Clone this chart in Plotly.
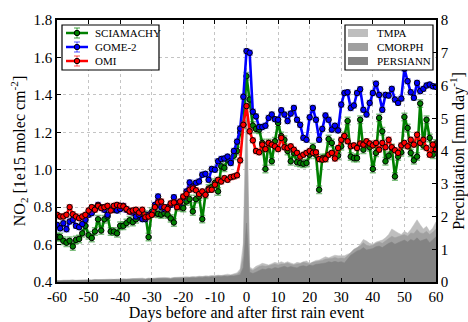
import plotly.graph_objects as go

days = list(range(-60, 61))

sciamachy = [
    0.64, 0.64, 0.62, 0.61, 0.62, 0.59, 0.625, 0.63, 0.66, 0.70,
    0.65, 0.635, 0.67, 0.735, 0.675, 0.735, 0.75, 0.67, 0.67, 0.66,
    0.70, 0.70, 0.715, 0.73, 0.72, 0.735, 0.75, 0.765, 0.76, 0.64,
    0.775, 0.768, 0.764, 0.76, 0.768, 0.76, 0.74, 0.718, 0.807, 0.80,
    0.795, 0.83, 0.843, 0.777, 0.843, 0.857, 0.736, 0.866, 0.90, 0.907,
    0.93, 0.884, 1.018, 1.01, 1.054, 1.045, 1.075, 1.10, 1.20, 1.24,
    1.50,
    1.375, 1.236, 1.218, 1.214, 1.143, 1.004, 1.143, 1.045, 1.152, 1.25,
    1.18, 1.16, 1.10, 1.045, 1.09, 1.04, 1.036, 1.032, 1.036, 1.08,
    1.12, 1.08, 0.893, 1.062, 1.062, 1.164, 1.143, 1.08, 1.075, 1.125,
    1.18, 1.26, 1.07, 1.062, 1.062, 1.267, 1.107, 1.134, 1.12, 1.004,
    1.09, 1.277, 1.205, 1.045, 1.075, 1.116, 0.964, 1.07, 1.093, 1.282,
    1.223, 1.09, 1.05, 1.07, 1.354, 1.129, 1.267, 1.17, 1.08, 1.14,
]

gome2 = [
    0.705, 0.687, 0.714, 0.682, 0.723, 0.732, 0.70, 0.693, 0.71, 0.732,
    0.759, 0.768, 0.795, 0.812, 0.80, 0.786, 0.759, 0.786, 0.786, 0.782,
    0.79, 0.807, 0.786, 0.777, 0.771, 0.75, 0.759, 0.736, 0.736, 0.759,
    0.764, 0.812, 0.857, 0.80, 0.79, 0.80, 0.812, 0.853, 0.82, 0.825,
    0.853, 0.884, 0.932, 0.91, 0.93, 0.937, 0.973, 0.978, 0.946, 1.004,
    1.0, 1.045, 1.057, 1.06, 1.07, 1.036, 1.10, 1.15, 1.22, 1.39,
    1.634,
    1.625, 1.31, 1.285, 1.228, 1.228, 1.235, 1.277, 1.295, 1.27, 1.267,
    1.318, 1.295, 1.26, 1.30, 1.33, 1.267, 1.24, 1.17, 1.16, 1.28,
    1.33, 1.267, 1.16, 1.218, 1.29, 1.267, 1.214, 1.235, 1.21, 1.348,
    1.41, 1.414, 1.33, 1.343, 1.41, 1.43, 1.32, 1.295, 1.357, 1.41,
    1.46, 1.40, 1.32, 1.40, 1.396, 1.432, 1.375, 1.357, 1.38, 1.54,
    1.473, 1.414, 1.384, 1.464, 1.42, 1.432, 1.45, 1.455, 1.446, 1.443,
]

omi = [
    0.759, 0.75, 0.75, 0.759, 0.80, 0.762, 0.75, 0.741, 0.75, 0.759,
    0.782, 0.80, 0.786, 0.807, 0.795, 0.80, 0.807, 0.782, 0.807, 0.812,
    0.807, 0.804, 0.79, 0.777, 0.782, 0.786, 0.771, 0.786, 0.746, 0.75,
    0.759, 0.80, 0.825, 0.83, 0.80, 0.79, 0.82, 0.825, 0.80, 0.83,
    0.857, 0.87, 0.893, 0.90, 0.89, 0.87, 0.884, 0.866, 0.893, 0.893,
    0.92, 0.946, 0.937, 0.955, 0.946, 0.96, 0.964, 0.97, 1.05, 1.24,
    1.34,
    1.205, 1.157, 1.10, 1.093, 1.134, 1.11, 1.143, 1.134, 1.125, 1.11,
    1.17, 1.12, 1.116, 1.125, 1.107, 1.09, 1.07, 1.08, 1.09, 1.10,
    1.09, 1.093, 1.057, 1.054, 1.057, 1.08, 1.09, 1.06, 1.116, 1.16,
    1.18, 1.152, 1.125, 1.13, 1.116, 1.14, 1.134, 1.152, 1.14, 1.13,
    1.143, 1.107, 1.143, 1.12, 1.16, 1.12, 1.104, 1.09, 1.13, 1.143,
    1.125, 1.16, 1.134, 1.187, 1.143, 1.16, 1.116, 1.08, 1.134, 1.107,
]

sciamachy_err = [0.02] * len(days)
gome2_err = [0.013] * len(days)
omi_err = [0.013] * len(days)

tmpa = [
    0.05, 0.04, 0.06, 0.05, 0.06, 0.07, 0.05, 0.06, 0.07, 0.06,
    0.07, 0.06, 0.08, 0.07, 0.08, 0.07, 0.08, 0.09, 0.08, 0.09,
    0.09, 0.10, 0.09, 0.10, 0.11, 0.10, 0.11, 0.12, 0.10, 0.12,
    0.11, 0.12, 0.13, 0.12, 0.14, 0.13, 0.12, 0.14, 0.15, 0.14,
    0.15, 0.16, 0.15, 0.17, 0.16, 0.18, 0.17, 0.19, 0.18, 0.20,
    0.19, 0.21, 0.20, 0.22, 0.24, 0.22, 0.25, 0.28, 0.40, 1.20,
    6.2,
    0.45, 0.40, 0.48, 0.52, 0.57, 0.55, 0.52, 0.56, 0.60, 0.57,
    0.62, 0.58, 0.62, 0.58, 0.55, 0.60, 0.58, 0.62, 0.64, 0.57,
    0.62, 0.66, 0.67, 0.72, 0.77, 0.74, 0.78, 0.82, 0.80, 0.79,
    0.80, 0.85, 0.88, 0.95, 1.03, 1.15, 1.30, 1.25, 1.18, 1.15,
    1.22, 1.25, 1.28, 1.35, 1.45, 1.62, 1.55, 1.50, 1.45, 1.55,
    1.49, 1.60, 1.75, 1.90, 1.75, 1.62, 1.70, 1.55, 1.65, 1.84,
]

cmorph = [
    0.04, 0.04, 0.05, 0.04, 0.05, 0.06, 0.05, 0.05, 0.06, 0.05,
    0.06, 0.06, 0.07, 0.06, 0.07, 0.07, 0.07, 0.08, 0.07, 0.08,
    0.08, 0.09, 0.08, 0.09, 0.10, 0.09, 0.10, 0.10, 0.09, 0.11,
    0.10, 0.11, 0.12, 0.11, 0.12, 0.12, 0.11, 0.13, 0.13, 0.13,
    0.14, 0.14, 0.14, 0.15, 0.15, 0.16, 0.16, 0.17, 0.17, 0.18,
    0.18, 0.19, 0.19, 0.20, 0.21, 0.20, 0.22, 0.24, 0.32, 0.80,
    5.0,
    0.40, 0.35, 0.42, 0.47, 0.50, 0.48, 0.50, 0.52, 0.55, 0.52,
    0.55, 0.55, 0.58, 0.54, 0.52, 0.55, 0.56, 0.60, 0.58, 0.55,
    0.60, 0.62, 0.63, 0.66, 0.70, 0.70, 0.72, 0.75, 0.72, 0.73,
    0.72, 0.80, 0.90, 1.00, 1.05, 1.10, 1.20, 1.12, 1.10, 1.12,
    1.18, 1.22, 1.18, 1.25, 1.32, 1.40, 1.35, 1.38, 1.42, 1.45,
    1.40, 1.50, 1.48, 1.60, 1.50, 1.48, 1.55, 1.45, 1.52, 1.62,
]

persiann = [
    0.03, 0.03, 0.04, 0.03, 0.04, 0.05, 0.04, 0.04, 0.05, 0.05,
    0.04, 0.05, 0.06, 0.05, 0.06, 0.06, 0.05, 0.06, 0.07, 0.06,
    0.06, 0.07, 0.07, 0.06, 0.08, 0.07, 0.08, 0.08, 0.07, 0.09,
    0.08, 0.09, 0.10, 0.09, 0.10, 0.10, 0.09, 0.11, 0.10, 0.11,
    0.11, 0.12, 0.11, 0.13, 0.12, 0.14, 0.13, 0.15, 0.14, 0.16,
    0.15, 0.17, 0.16, 0.18, 0.17, 0.19, 0.18, 0.20, 0.22, 0.45,
    1.8,
    0.30, 0.26, 0.30, 0.36, 0.40, 0.38, 0.42, 0.40, 0.44, 0.42,
    0.45, 0.48, 0.44, 0.47, 0.45, 0.43, 0.48, 0.50, 0.47, 0.52,
    0.50, 0.54, 0.55, 0.56, 0.58, 0.62, 0.60, 0.63, 0.60, 0.62,
    0.58, 0.70, 0.82, 0.88, 0.95, 0.98, 1.05, 0.98, 1.00, 1.02,
    1.08, 1.10, 1.05, 1.12, 1.18, 1.22, 1.15, 1.20, 1.25, 1.28,
    1.22, 1.30, 1.26, 1.35, 1.25, 1.28, 1.32, 1.20, 1.30, 1.38,
]

x_ticks = [-60, -50, -40, -30, -20, -10, 0, 10, 20, 30, 40, 50, 60]
no2_ticks = [0.4, 0.6, 0.8, 1.0, 1.2, 1.4, 1.6, 1.8]
precip_ticks = [0, 1, 2, 3, 4, 5, 6, 7, 8]

FONT = "Liberation Serif, DejaVu Serif, serif"

# plot area in pixels (for legend placement)
W, H = 468, 322
ML, MR, MT, MB = 57, 32, 20, 40
PW, PH = W - ML - MR, H - MT - MB


def px(x):
    return (x - ML) / PW


def py(y):
    return (H - MB - y) / PH


fig = go.Figure()

precip_series = [
    ("TMPA", tmpa, "#bebebe"),
    ("CMORPH", cmorph, "#a0a0a0"),
    ("PERSIANN", persiann, "#838383"),
]
for name, vals, col in precip_series:
    fig.add_trace(go.Scatter(
        x=days, y=vals, name=name, mode="lines", fill="tozeroy",
        fillcolor=col, line=dict(color=col, width=0.5),
        yaxis="y", showlegend=False,
    ))

no2_series = [
    ("SCIAMACHY", sciamachy, sciamachy_err, "#008000", "rgba(0,128,0,0.5)"),
    ("GOME-2", gome2, gome2_err, "#0000ff", "rgba(0,0,255,0.45)"),
    ("OMI", omi, omi_err, "#ff0000", "rgba(255,0,0,0.45)"),
]
for name, vals, err, col, ecol in no2_series:
    fig.add_trace(go.Scatter(
        x=days, y=vals, name=name, mode="lines+markers",
        line=dict(color=col, width=2.6),
        marker=dict(symbol="circle", size=5.5, color=col,
                    line=dict(color="black", width=1)),
        error_y=dict(type="data", array=err, visible=True,
                     color=ecol, thickness=1.5, width=3),
        yaxis="y2", showlegend=False,
    ))

# ---- hand-built legends (compact, like the reference) ----
shapes = []
annotations = []
rows = [33, 47, 61]
LEG_FONT = dict(family=FONT, size=11, color="black")

# left legend box
shapes.append(dict(type="rect", xref="paper", yref="paper",
                   x0=px(62), x1=px(159), y0=py(70), y1=py(25),
                   fillcolor="white", line=dict(color="black", width=1.2)))
for (name, _, _, col, ecol), ry in zip(no2_series, rows):
    shapes.append(dict(type="line", xref="paper", yref="paper",
                       x0=px(66), x1=px(88), y0=py(ry), y1=py(ry),
                       line=dict(color=col, width=2.5)))
    shapes.append(dict(type="line", xref="paper", yref="paper",
                       x0=px(77), x1=px(77), y0=py(ry - 5), y1=py(ry + 5),
                       line=dict(color=ecol, width=1.5)))
    for cy in (ry - 5, ry + 5):
        shapes.append(dict(type="line", xref="paper", yref="paper",
                           x0=px(74), x1=px(80), y0=py(cy), y1=py(cy),
                           line=dict(color=ecol, width=1.5)))
    shapes.append(dict(type="circle", xref="paper", yref="paper",
                       x0=px(74.3), x1=px(79.7), y0=py(ry + 2.7), y1=py(ry - 2.7),
                       fillcolor=col, line=dict(color="black", width=1)))
    annotations.append(dict(text=name, xref="paper", yref="paper",
                            x=px(93), y=py(ry), xanchor="left", yanchor="middle",
                            showarrow=False, font=LEG_FONT))

# right legend box
shapes.append(dict(type="rect", xref="paper", yref="paper",
                   x0=px(345), x1=px(433), y0=py(70), y1=py(25),
                   fillcolor="white", line=dict(color="black", width=1.2)))
for (name, _, col), ry in zip(precip_series, rows):
    shapes.append(dict(type="rect", xref="paper", yref="paper",
                       x0=px(348), x1=px(368), y0=py(ry + 4), y1=py(ry - 4),
                       fillcolor=col, line=dict(width=0)))
    annotations.append(dict(text=name, xref="paper", yref="paper",
                            x=px(375), y=py(ry), xanchor="left", yanchor="middle",
                            showarrow=False, font=LEG_FONT))

grid = dict(showgrid=True, gridcolor="#c4c4c4", gridwidth=1, griddash="dot")
TICK_FONT = dict(family=FONT, size=15, color="black")
TITLE_FONT = dict(family=FONT, size=16, color="black")

fig.update_layout(
    width=W, height=H,
    margin=dict(l=ML, r=MR, t=MT, b=MB),
    paper_bgcolor="white", plot_bgcolor="white",
    font=dict(family=FONT, size=15, color="black"),
    showlegend=False,
    shapes=shapes,
    annotations=annotations,
    xaxis=dict(
        range=[-60, 60], tickvals=x_ticks, ticktext=[str(v) for v in x_ticks],
        ticks="inside", ticklen=4, tickwidth=1, tickcolor="black",
        showline=True, linecolor="black", linewidth=1.5, mirror="ticks",
        zeroline=False,
        title=dict(text="Days before and after first rain event",
                   font=TITLE_FONT, standoff=4),
        tickfont=TICK_FONT, automargin=False, **grid,
    ),
    yaxis=dict(
        range=[0, 8], side="right", tickvals=precip_ticks,
        ticks="inside", ticklen=4, tickwidth=1, tickcolor="black",
        showline=True, linecolor="black", linewidth=1.5,
        showgrid=False, zeroline=False,
        title=dict(text="Precipitation [mm day<sup>-1</sup>]",
                   font=TITLE_FONT, standoff=6),
        tickfont=TICK_FONT, automargin=False,
    ),
    yaxis2=dict(
        range=[0.4, 1.8], side="left", overlaying="y", tickvals=no2_ticks,
        tickformat=".1f",
        ticks="inside", ticklen=4, tickwidth=1, tickcolor="black",
        showline=True, linecolor="black", linewidth=1.5,
        zeroline=False,
        title=dict(text="NO<sub>2</sub> [1e15 molec cm<sup>-2</sup>]",
                   font=TITLE_FONT, standoff=4),
        tickfont=TICK_FONT, automargin=False, **grid,
    ),
)

fig.write_html("out.html")
